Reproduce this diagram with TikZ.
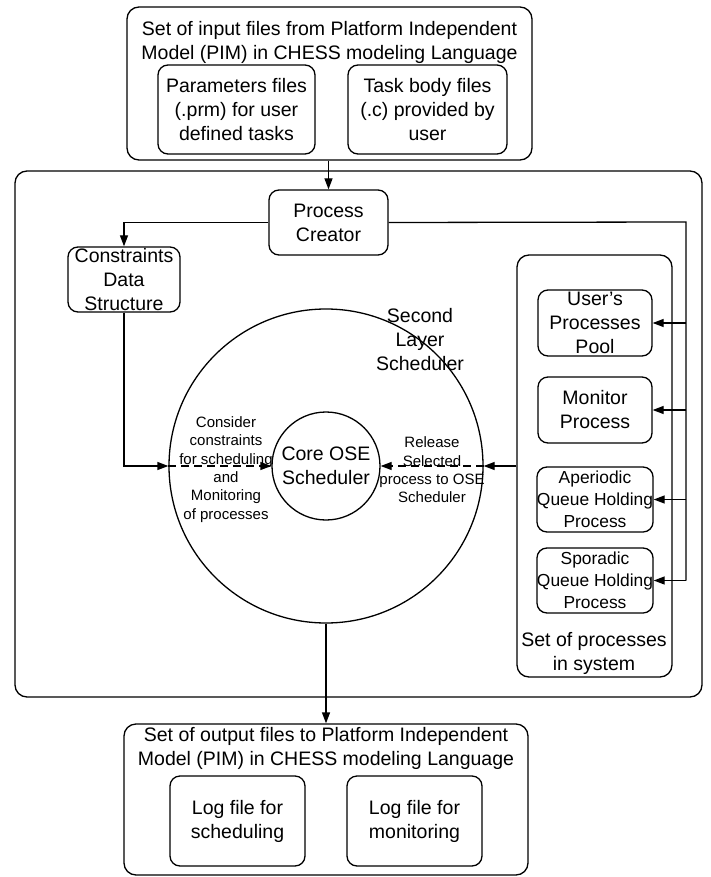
\documentclass[tikz,border=0pt]{standalone}
\usepackage{fontspec}
\setmainfont{Liberation Sans}
\usetikzlibrary{arrows.meta,positioning,calc}
\tikzset{
  >={Triangle[length=11pt,width=8pt]},
  box/.style={draw,rounded corners=10pt,line width=1.3pt,inner sep=0pt,align=center,font=\fontsize{19.5}{24}\selectfont},
  qbox/.style={box,font=\fontsize{17.4}{22}\selectfont},
  grp/.style={draw,rounded corners=12pt,line width=1.3pt,inner sep=0pt},
  ring/.style={draw,circle,line width=1.3pt,inner sep=0pt},
  lab/.style={align=center,font=\fontsize{19.5}{24}\selectfont},
  slab/.style={align=center,font=\fontsize{15}{18.3}\selectfont},
  arr/.style={->,line width=1.3pt},
  darr/.style={->,line width=1.3pt,dash pattern=on 8pt off 5pt},
}
\begin{document}
\begin{tikzpicture}[x=1pt,y=-1pt]
\useasboundingbox (0,0) rectangle (711,877);
% input files
\node[grp,minimum width=405pt,minimum height=153pt] (inbox) at (329.5,83.5) {};
\node[lab] (intitle) at (329.5,42) {Set of input files from Platform Independent\\Model (PIM) in CHESS modeling Language};
\node[box,minimum width=157pt,minimum height=89pt] (prm) at (236.5,109.5) {Parameters files\\(.prm) for user\\defined tasks};
\node[box,minimum width=159pt,minimum height=89pt] (body) at (427.5,109.5) {Task body files\\(.c) provided by\\user};
% system
\node[grp,minimum width=687pt,minimum height=526pt] (sys) at (358.5,434) {};
\node[box,minimum width=119pt,minimum height=65pt] (creator) at (328.5,222.5) {Process\\Creator};
\node[box,minimum width=112pt,minimum height=65pt] (cons) at (124,279.5) {Constraints\\Data\\Structure};
\node[ring,minimum size=314pt] (sched) at (326,466) {};
\node[lab] (schedlab) at (420,340) {Second\\Layer\\Scheduler};
\node[ring,minimum size=108pt,font=\fontsize{19.5}{24}\selectfont,align=center] (core) at (326,466) {Core OSE\\Scheduler};
\node[slab] (conslab) at (226,469.5) {Consider\\constraints\\for scheduling\\and\\Monitoring\\of processes};
\node[slab] (rellab) at (432,470) {Release\\Selected\\process to OSE\\Scheduler};
% processes
\node[grp,minimum width=155pt,minimum height=422pt] (procs) at (594.5,466) {};
\node[box,minimum width=114pt,minimum height=66pt] (user) at (595,323) {User's\\Processes\\Pool};
\node[box,minimum width=114pt,minimum height=66pt] (mon) at (595,410) {Monitor\\Process};
\node[qbox,minimum width=114pt,minimum height=65pt] (aper) at (595,499.5) {Aperiodic\\Queue Holding\\Process};
\node[qbox,minimum width=114pt,minimum height=65pt] (spor) at (595,580.5) {Sporadic\\Queue Holding\\Process};
\node[lab] (procslab) at (594,653.5) {Set of processes\\in system};
% output files
\node[grp,minimum width=404pt,minimum height=151pt] (outbox) at (326,799.5) {};
\node[lab] (outtitle) at (326,748.5) {Set of output files to Platform Independent\\Model (PIM) in CHESS modeling Language};
\node[box,minimum width=135pt,minimum height=90pt] (logs) at (237.5,821) {Log file for\\scheduling};
\node[box,minimum width=135pt,minimum height=90pt] (logm) at (414.5,821) {Log file for\\monitoring};
% connectors
\coordinate (rail) at (686,222);
\draw[arr] (inbox.south -| creator) -- (creator.north);
\draw[arr] (creator.west) -| (cons.north);
\draw[line width=1.3pt] (creator.east) -- (rail) -- (rail |- spor.east);
\foreach \p in {user,mon,aper,spor}
  \draw[arr] (rail |- \p.east) -- (\p.east);
\draw[arr] (cons.south) |- (sched.west);
\draw[darr] (sched.west) -- (core.west);
\draw[arr] (procs.west) -- (sched.east);
\draw[darr] (sched.east) -- (core.east);
\draw[arr] (sched.south) -- (outbox.north);
\end{tikzpicture}
\end{document}
